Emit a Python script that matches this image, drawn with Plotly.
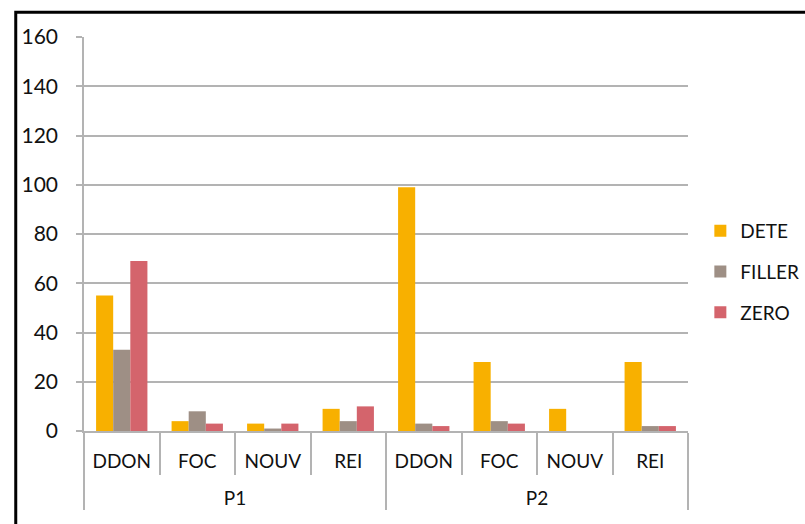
import plotly.graph_objects as go

# Grouped counts per period (P1, P2) and category
periods = ["P1", "P1", "P1", "P1", "P2", "P2", "P2", "P2"]
categories = ["DDON", "FOC", "NOUV", "REI", "DDON", "FOC", "NOUV", "REI"]

dete = [55, 4, 3, 9, 99, 28, 9, 28]
filler = [33, 8, 1, 4, 3, 4, 0, 2]
zero = [69, 3, 3, 10, 2, 3, 0, 2]

series_names = ["DETE", "FILLER", "ZERO"]
series_values = [dete, filler, zero]
series_colors = ["#F8B000", "#9E8F85", "#D4646C"]

y_ticks = [0, 20, 40, 60, 80, 100, 120, 140, 160]

FONT = "Lato, 'Open Sans', sans-serif"

# leading line break drops the period label one row below the category row
period_labels = ["<br>" + p for p in periods]

fig = go.Figure()
for name, vals, col in zip(series_names, series_values, series_colors):
    fig.add_trace(go.Bar(
        x=[period_labels, categories],
        y=vals,
        name=name,
        legendgroup=name,
        marker=dict(color=col, line=dict(width=0)),
    ))

fig.update_layout(
    width=805,
    height=524,
    margin=dict(l=84, r=117, t=37, b=93, autoexpand=False),
    paper_bgcolor="white",
    plot_bgcolor="white",
    barmode="group",
    bargap=0.32,
    bargroupgap=0,
    font=dict(family=FONT, size=19, color="#111111"),
    showlegend=True,
    legend=dict(
        xref="container", yref="container",
        x=0.870, xanchor="left",
        y=0.481, yanchor="middle",
        font=dict(family=FONT, size=19, color="#111111"),
        tracegroupgap=13,
        itemwidth=30,
        bgcolor="rgba(0,0,0,0)",
    ),
    xaxis=dict(
        type="multicategory",
        showline=True,
        linecolor="#b3b3b3",
        linewidth=1.5,
        ticks="outside",
        tickson="boundaries",
        ticklen=42,
        tickcolor="#b3b3b3",
        tickwidth=1.5,
        showdividers=True,
        dividercolor="#b3b3b3",
        dividerwidth=1.5,
        showgrid=False,
        ticklabelstandoff=12,
        tickfont=dict(family=FONT, size=19, color="#111111"),
    ),
    yaxis=dict(
        range=[0, 160],
        tickvals=y_ticks,
        ticktext=[str(v) for v in y_ticks],
        showgrid=True,
        gridcolor="#b3b3b3",
        gridwidth=1.5,
        showline=True,
        linecolor="#b3b3b3",
        linewidth=1.5,
        ticks="outside",
        ticklen=6,
        tickcolor="#b3b3b3",
        tickwidth=1.5,
        zeroline=False,
        tickfont=dict(family=FONT, size=21, color="#111111"),
        ticklabelstandoff=14,
    ),
    shapes=[dict(
        type="rect", xref="paper", yref="paper",
        x0=-0.113, x1=1.35, y0=-0.35, y1=1.063,
        line=dict(color="black", width=3),
        fillcolor="rgba(0,0,0,0)",
        layer="above",
    )],
)

fig.write_html("out.html")
